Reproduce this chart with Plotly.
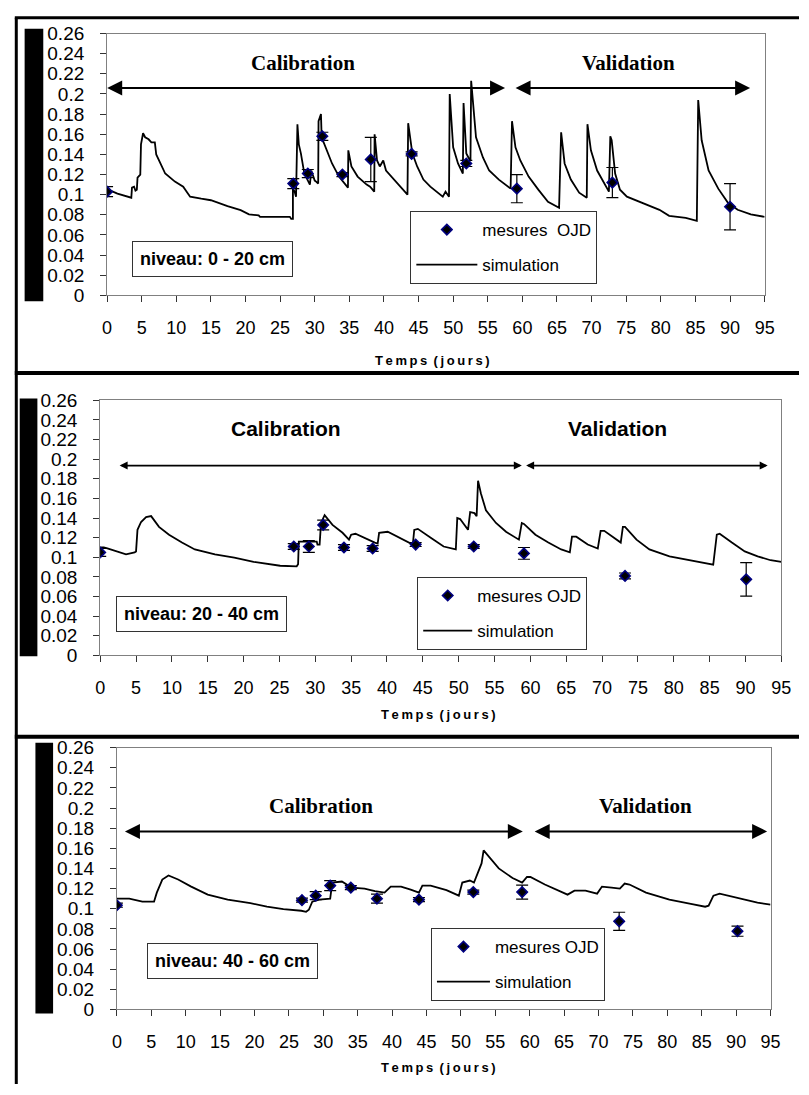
import plotly.graph_objects as go

# ---------------- data ----------------
ticks_x = list(range(0, 100, 5))
ticks_y = [0, 0.02, 0.04, 0.06, 0.08, 0.1, 0.12, 0.14, 0.16, 0.18, 0.2, 0.22, 0.24, 0.26]
ticks_y_text = ["0", "0.02", "0.04", "0.06", "0.08", "0.1", "0.12", "0.14", "0.16", "0.18", "0.2", "0.22", "0.24", "0.26"]

# Panel 1 : niveau 0 - 20 cm
sim1_t = [0, 0.5, 1.5, 2.5, 3.2, 3.5, 3.6, 3.9, 4.1, 4.3, 4.4, 4.8, 4.9, 5.2, 5.5, 6.0, 6.4, 6.9, 7.1, 7.5,
          8.4, 9.8, 11.0, 11.6, 12.0, 13.6, 15.0, 17.4, 19.3, 20.5, 21.9, 22.1, 26.4, 26.6, 26.85, 26.85,
          27.1, 27.3, 27.5, 27.7, 28.0, 28.5, 29.0, 29.3, 29.5, 29.8, 30.0, 30.2, 30.5, 30.55, 30.9, 31.0,
          31.8, 32.5, 33.5, 34.6, 34.8, 34.85, 35.3, 36.2, 37.5, 38.0, 38.3, 38.6, 38.65, 39.0, 39.4, 39.9,
          40.3, 41.5, 43.4, 43.5, 44.1, 44.8, 45.7, 46.7, 48.1, 48.5, 48.9, 49.4, 49.5, 50.0, 50.7, 51.4,
          51.5, 51.9, 52.2, 52.5, 52.6, 52.9, 53.3, 54.3, 55.2, 56.6, 58.3, 58.5, 59.0, 59.7, 60.9, 62.3,
          63.7, 65.3, 65.6, 66.1, 67.0, 68.2, 69.3, 69.4, 69.9, 70.8, 71.8, 72.5, 72.7, 72.9, 73.4, 74.1,
          75.1, 77.4, 79.8, 81.2, 83.6, 85.2, 85.4, 85.9, 86.9, 88.3, 89.7, 91.1, 93.0, 95.0]
sim1_v = [0.106, 0.104, 0.101, 0.099, 0.097, 0.097, 0.107, 0.108, 0.104, 0.105, 0.117, 0.120, 0.150, 0.161, 0.157, 0.155, 0.152, 0.152, 0.140, 0.134,
          0.121, 0.113, 0.108, 0.102, 0.098, 0.096, 0.0945, 0.0886, 0.0847, 0.0805, 0.0795, 0.078, 0.078, 0.076, 0.076, 0.106,
          0.103, 0.098, 0.170, 0.150, 0.141, 0.121, 0.113, 0.110, 0.124, 0.118, 0.114, 0.113, 0.111, 0.173, 0.180, 0.157,
          0.144, 0.131, 0.118, 0.108, 0.107, 0.144, 0.128, 0.118, 0.110, 0.108, 0.105, 0.103, 0.160, 0.134, 0.128, 0.134,
          0.124, 0.115, 0.100, 0.171, 0.141, 0.128, 0.115, 0.108, 0.100, 0.098, 0.103, 0.098, 0.200, 0.147, 0.131, 0.121,
          0.191, 0.141, 0.137, 0.134, 0.213, 0.186, 0.157, 0.137, 0.124, 0.115, 0.106, 0.173, 0.147, 0.134, 0.118, 0.105,
          0.093, 0.087, 0.162, 0.131, 0.115, 0.102, 0.097, 0.170, 0.144, 0.124, 0.111, 0.103, 0.158, 0.154, 0.121, 0.105,
          0.098, 0.092, 0.085, 0.079, 0.077, 0.074, 0.194, 0.154, 0.124, 0.106, 0.092, 0.085, 0.0805, 0.078]
obs1_t = [0, 26.9, 29, 31.1, 34, 38.1, 44, 51.9, 59.2, 73, 90]
obs1_v = [0.103, 0.111, 0.121, 0.158, 0.120, 0.135, 0.1405, 0.131, 0.106, 0.112, 0.088]
obs1_e = [0.005, 0.005, 0.004, 0.004, 0.002, 0.022, 0.002, 0.003, 0.014, 0.015, 0.023]

# Panel 2 : niveau 20 - 40 cm
sim2_t = [0, 0.5, 1.0, 3.6, 4.8, 5.0, 5.2, 5.7, 6.4, 7.1, 8.2, 9.6, 11.4, 13.2, 16.0, 18.7, 21.4, 23.3, 25.1,
          27.4, 27.6, 27.7, 30.2, 30.3, 30.6, 30.8, 31.3, 32.4, 33.8, 34.7, 35.0, 35.6, 37.0, 38.3, 38.7, 38.9,
          40.1, 41.5, 43.6, 43.8, 44.3, 46.1, 47.9, 49.6, 49.8, 50.2, 51.3, 51.6, 52.2, 52.5, 52.7, 53.1, 53.8,
          55.2, 56.6, 58.4, 58.8, 59.1, 60.7, 62.5, 64.3, 65.5, 65.8, 66.4, 68.0, 69.4, 69.8, 70.3, 71.6, 72.6,
          72.9, 73.2, 74.8, 76.6, 79.4, 82.6, 85.5, 86.0, 86.4, 88.1, 89.9, 91.7, 93.5, 95.0]
sim2_v = [0.110, 0.110, 0.109, 0.103, 0.105, 0.106, 0.128, 0.136, 0.141, 0.142, 0.131, 0.123, 0.115, 0.108, 0.103, 0.0997, 0.0954, 0.093, 0.0914,
          0.0908, 0.093, 0.116, 0.116, 0.113, 0.113, 0.135, 0.143, 0.133, 0.125, 0.118, 0.123, 0.124, 0.119, 0.115, 0.114, 0.125,
          0.126, 0.121, 0.113, 0.128, 0.129, 0.120, 0.111, 0.108, 0.140, 0.139, 0.128, 0.146, 0.145, 0.142, 0.178, 0.165, 0.148,
          0.135, 0.126, 0.118, 0.135, 0.134, 0.123, 0.115, 0.108, 0.105, 0.121, 0.121, 0.113, 0.109, 0.127, 0.127, 0.120, 0.115,
          0.131, 0.131, 0.118, 0.108, 0.101, 0.0964, 0.0924, 0.123, 0.124, 0.115, 0.106, 0.101, 0.097, 0.0954]
obs2_t = [0, 27, 29.1, 31.1, 34, 38, 44, 52.1, 59.1, 73.2, 90.1]
obs2_v = [0.105, 0.111, 0.111, 0.133, 0.110, 0.109, 0.113, 0.111, 0.104, 0.081, 0.0775]
obs2_e = [0.004, 0.003, 0.006, 0.005, 0.003, 0.003, 0.002, 0.002, 0.006, 0.003, 0.017]

# Panel 3 : niveau 40 - 60 cm
sim3_t = [0, 1.8, 3.7, 5.4, 5.8, 6.6, 7.5, 8.9, 10.8, 13.2, 16.1, 19.4, 21.8, 24.2, 26.8, 27.5, 27.9, 28.4, 29.4,
          31.0, 31.3, 32.7, 34.1, 36.0, 37.5, 38.9, 39.8, 41.3, 42.7, 43.9, 44.4, 45.6, 47.9, 49.7, 50.2, 51.3,
          51.9, 52.4, 53.0, 53.3, 54.1, 55.5, 57.5, 58.9, 59.6, 60.1, 62.2, 64.6, 65.5, 66.5, 68.1, 69.8, 70.5,
          71.9, 73.1, 73.8, 74.5, 76.9, 80.3, 83.6, 85.5, 86.0, 86.7, 87.6, 88.8, 91.2, 93.1, 95.0]
sim3_v = [0.110, 0.110, 0.107, 0.107, 0.116, 0.129, 0.133, 0.129, 0.122, 0.114, 0.109, 0.1056, 0.102, 0.0997, 0.098, 0.097, 0.099, 0.107, 0.109,
          0.110, 0.126, 0.127, 0.121, 0.120, 0.1175, 0.116, 0.122, 0.122, 0.119, 0.116, 0.123, 0.123, 0.1185, 0.113, 0.126, 0.128,
          0.126, 0.135, 0.145, 0.158, 0.1515, 0.140, 0.1305, 0.126, 0.1315, 0.1315, 0.124, 0.1166, 0.114, 0.118, 0.118, 0.115, 0.122,
          0.121, 0.120, 0.125, 0.124, 0.116, 0.109, 0.1046, 0.102, 0.103, 0.113, 0.115, 0.113, 0.109, 0.106, 0.104]
obs3_t = [0, 26.9, 28.9, 31, 34, 37.8, 43.9, 51.8, 58.9, 73, 90.2]
obs3_v = [0.1035, 0.1085, 0.113, 0.123, 0.121, 0.110, 0.109, 0.1165, 0.1165, 0.0875, 0.0777]
obs3_e = [0.002, 0.002, 0.004, 0.005, 0.002, 0.0045, 0.002, 0.002, 0.007, 0.009, 0.005]

levels = ["niveau: 0 - 20 cm", "niveau: 20 - 40 cm", "niveau: 40 - 60 cm"]
obs_names = ["mesures\u00a0\u00a0OJD", "mesures OJD", "mesures OJD"]
phase_names = ["Calibration", "Validation"]
x_title = "Temps (jours)"

# ---------------- layout constants (pixels) ----------------
W, H = 809, 1095
SANS = "Liberation Sans, Arial, sans-serif"
SERIF = "Liberation Serif, Times New Roman, serif"

def px(x):
    return x / W

def py(y):
    return 1 - y / H

panels = [
    dict(sim=(sim1_t, sim1_v), obs=(obs1_t, obs1_v, obs1_e), level=levels[0], obsname=obs_names[0],
         xpx=(104, 774), ypx=(24, 291), bar=(20, 39, 19, 297),
         box=(211.5, 253.5), legend=(413, 205), itemw=61, xtitle=(436, 357),
         title_font=SERIF, head=2, headsize=1.5, arrw=2,
         cal_arrow=(-0.2, 57.5, 0.206), val_arrow=(58.8, 92.9, 0.206),
         cal_text=(28.3, 0.231), val_text=(75.3, 0.231)),
    dict(sim=(sim2_t, sim2_v), obs=(obs2_t, obs2_v, obs2_e), level=levels[1], obsname=obs_names[1],
         xpx=(97, 791), ypx=(398, 658), bar=(15, 33, 396, 659),
         box=(200.5, 615.5), legend=(420, 578), itemw=49, xtitle=(442, 718),
         title_font=SANS, head=2, headsize=1.0, arrw=1.6,
         cal_arrow=(2.5, 58.8, 0.1935), val_arrow=(59.2, 93.1, 0.1935),
         cal_text=(25.9, 0.231), val_text=(72.1, 0.231)),
    dict(sim=(sim3_t, sim3_v), obs=(obs3_t, obs3_v, obs3_e), level=levels[2], obsname=obs_names[2],
         xpx=(114, 780), ypx=(752, 1019), bar=(31, 49, 747, 1023),
         box=(232, 970), legend=(434, 936), itemw=53, xtitle=(442, 1078),
         title_font=SERIF, head=2, headsize=1.5, arrw=2,
         cal_arrow=(0.95, 59.0, 0.1768), val_arrow=(60.5, 94.5, 0.1768),
         cal_text=(29.6, 0.2017), val_text=(76.9, 0.2017)),
]

TS = "\u2009"
spaced_title = ("\u00a0" + TS).join(TS.join(list(w)) for w in x_title.split(" "))

XTICK = dict(family=SANS, size=18, color="black")
YTICK = dict(family=SANS, size=19, color="black")

fig = go.Figure()
shapes = []
annotations = []
layout_extra = {}

for i, p in enumerate(panels, start=1):
    sfx = "" if i == 1 else str(i)
    xname, yname = "x" + sfx, "y" + sfx
    leg = "legend" if i == 1 else "legend" + str(i)

    fig.add_trace(go.Scatter(
        x=p["sim"][0], y=p["sim"][1], mode="lines", name="simulation",
        line=dict(color="black", width=1.8), xaxis=xname, yaxis=yname,
        legend=leg, legendrank=2, legendgroup="sim" + sfx))
    fig.add_trace(go.Scatter(
        x=p["obs"][0], y=p["obs"][1], mode="markers", name=p["obsname"],
        marker=dict(symbol="diamond", size=8, color="black", line=dict(color="#000080", width=1.6)),
        error_y=dict(type="data", array=p["obs"][2], visible=True, color="black", thickness=1.2, width=6),
        xaxis=xname, yaxis=yname, legend=leg, legendrank=1, legendgroup="obs" + sfx))

    x0, x1 = p["xpx"]
    y0, y1 = p["ypx"]
    layout_extra["xaxis" + sfx] = dict(
        domain=[px(x0), px(x1)], range=[0, 95], anchor=yname,
        tickmode="array", tickvals=ticks_x, ticktext=[str(v) for v in ticks_x],
        ticks="outside", ticklen=6, tickcolor="#333",
        showline=True, linecolor="#808080", linewidth=1, mirror=True,
        showgrid=False, zeroline=False, ticklabelstandoff=10,
        tickfont=XTICK)
    layout_extra["yaxis" + sfx] = dict(
        domain=[py(y1), py(y0)], range=[0, 0.26], anchor=xname,
        tickmode="array", tickvals=ticks_y, ticktext=ticks_y_text, ticks="outside", ticklen=6, tickcolor="#333",
        showline=True, linecolor="#808080", linewidth=1, mirror=True,
        showgrid=False, zeroline=False, ticklabelstandoff=12,
        tickfont=YTICK)

    lx, ly = p["legend"]
    layout_extra[leg] = dict(
        x=px(lx), y=py(ly), xanchor="left", yanchor="top",
        bgcolor="white", bordercolor="#333", borderwidth=1,
        font=dict(family=SANS, size=17, color="black"),
        traceorder="grouped", tracegroupgap=10, itemwidth=p["itemw"])

    # x-axis title
    tx_, ty_ = p["xtitle"]
    annotations.append(dict(text="<b>" + spaced_title + "</b>", xref="paper", yref="paper",
                            x=px(tx_), y=py(ty_), xanchor="center", yanchor="middle", showarrow=False,
                            font=dict(family=SANS, size=13, color="black")))

    # black bar on the left
    bx0, bx1, by0, by1 = p["bar"]
    shapes.append(dict(type="rect", xref="paper", yref="paper",
                       x0=px(bx0), x1=px(bx1), y0=py(by1), y1=py(by0),
                       fillcolor="black", line=dict(width=0)))

    # level box
    cx, cy = p["box"]
    annotations.append(dict(text="<b>" + p["level"] + "</b>", xref="paper", yref="paper",
                            x=px(cx), y=py(cy), xanchor="center", yanchor="middle", showarrow=False,
                            font=dict(family=SANS, size=18, color="black"),
                            bordercolor="#333", borderwidth=1, borderpad=7, bgcolor="white"))

    # phase arrows
    for (a0, a1, av) in (p["cal_arrow"], p["val_arrow"]):
        annotations.append(dict(x=a1, y=av, ax=a0, ay=av, xref=xname, yref=yname,
                                axref=xname, ayref=yname, text="", showarrow=True,
                                arrowhead=p["head"], startarrowhead=p["head"], arrowside="end+start",
                                arrowsize=p["headsize"], startarrowsize=p["headsize"],
                                arrowwidth=p["arrw"], arrowcolor="black"))
    # phase labels
    for name, (tx, tv) in zip(phase_names, (p["cal_text"], p["val_text"])):
        annotations.append(dict(text="<b>" + name + "</b>", x=tx, y=tv, xref=xname, yref=yname,
                                showarrow=False, xanchor="center", yanchor="middle",
                                font=dict(family=p["title_font"], size=21, color="black")))

# outer panel frames
frame = dict(color="black", width=3)
shapes.append(dict(type="line", xref="paper", yref="paper", x0=px(10), x1=1, y0=py(8), y1=py(8), line=frame))
shapes.append(dict(type="line", xref="paper", yref="paper", x0=px(11.5), x1=px(11.5), y0=py(8), y1=0, line=frame))
shapes.append(dict(type="line", xref="paper", yref="paper", x0=px(10), x1=1, y0=py(370), y1=py(370), line=dict(color="black", width=4)))
shapes.append(dict(type="line", xref="paper", yref="paper", x0=px(10), x1=1, y0=py(741), y1=py(741), line=dict(color="black", width=4)))

fig.update_layout(
    width=W, height=H, margin=dict(l=0, r=0, t=0, b=0),
    font=dict(family=SANS, size=18, color="black"),
    paper_bgcolor="white", plot_bgcolor="white",
    showlegend=True, shapes=shapes, annotations=annotations,
    **layout_extra)

fig.write_html("out.html")
